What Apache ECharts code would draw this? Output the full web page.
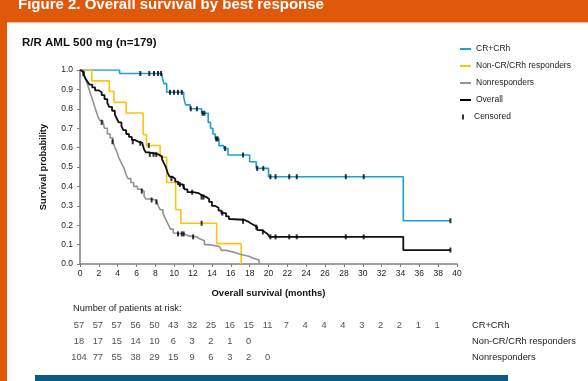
<!DOCTYPE html>
<html>
<head>
<meta charset="utf-8">
<script src="https://cdn.jsdelivr.net/npm/echarts@6/dist/echarts.min.js"></script>
<style>
  html, body { margin: 0; padding: 0; background: #fff; }
  #chart { width: 588px; height: 381px; }
</style>
</head>
<body>
<div id="chart"></div>
<script>
// Kaplan-Meier estimates, [month, survival probability]; each value holds until the next month listed
const crCurve = [[0,1.0],[4.2,0.982],[8.7,0.965],[8.9,0.93],[9.2,0.885],[11.0,0.86],[11.2,0.82],[11.7,0.80],[12.9,0.777],[13.6,0.73],[13.85,0.70],[14.1,0.67],[14.35,0.645],[14.75,0.61],[15.25,0.595],[15.7,0.562],[18.0,0.527],[18.7,0.493],[20.0,0.45],[34.3,0.223],[39.3,0.223]];
const nonCrCurve = [[0,1.0],[1.25,0.944],[3.1,0.889],[3.6,0.833],[4.9,0.778],[6.7,0.667],[7.05,0.611],[8.5,0.55],[9.2,0.42],[10.15,0.28],[10.7,0.21],[14.5,0.105],[17.1,0]];
const nonRespCurve = [[0,1.0],[0.3,0.99],[0.5,0.96],[0.7,0.94],[0.9,0.91],[1.1,0.88],[1.3,0.85],[1.5,0.82],[1.7,0.79],[1.9,0.76],[2.1,0.74],[2.4,0.73],[2.6,0.70],[2.9,0.67],[3.2,0.65],[3.5,0.63],[3.7,0.60],[3.9,0.58],[4.1,0.55],[4.3,0.53],[4.5,0.51],[4.7,0.49],[4.9,0.46],[5.1,0.44],[5.4,0.42],[5.7,0.40],[6.1,0.385],[6.5,0.375],[6.8,0.35],[7.0,0.335],[7.4,0.33],[8.1,0.32],[8.3,0.30],[8.5,0.28],[8.8,0.26],[9.0,0.24],[9.2,0.22],[9.4,0.20],[9.6,0.18],[9.9,0.16],[10.1,0.155],[11.1,0.145],[11.5,0.14],[12.4,0.13],[12.7,0.12],[13.2,0.10],[13.7,0.09],[14.8,0.08],[15.0,0.07],[15.6,0.06],[16.4,0.05],[17.0,0.04],[17.9,0.03],[18.4,0.02],[19.0,0]];
const overallCurve = [[0,1.0],[0.2,0.99],[0.4,0.975],[0.6,0.955],[0.8,0.94],[1.0,0.925],[1.3,0.91],[1.6,0.895],[2.0,0.885],[2.3,0.87],[2.6,0.85],[2.9,0.83],[3.1,0.81],[3.4,0.79],[3.7,0.77],[3.9,0.75],[4.1,0.73],[4.4,0.71],[4.6,0.69],[4.9,0.67],[5.2,0.655],[5.5,0.64],[5.8,0.63],[6.2,0.625],[6.6,0.615],[6.8,0.59],[7.0,0.575],[7.3,0.565],[8.3,0.555],[8.7,0.54],[8.9,0.52],[9.1,0.50],[9.3,0.47],[9.5,0.45],[9.8,0.44],[10.1,0.425],[10.4,0.41],[10.9,0.40],[11.1,0.385],[11.4,0.37],[12.0,0.365],[12.6,0.355],[12.9,0.345],[13.4,0.335],[13.7,0.32],[14.0,0.30],[14.3,0.29],[14.7,0.275],[15.0,0.262],[15.5,0.245],[15.8,0.232],[16.0,0.228],[17.4,0.22],[17.8,0.21],[18.1,0.20],[18.5,0.19],[18.8,0.175],[19.3,0.165],[19.6,0.155],[19.9,0.145],[20.1,0.14],[34.3,0.072],[39.3,0.072]];

// Censored observations, [month, survival probability]
const crCensored = [[6.4,0.982],[7.35,0.982],[7.85,0.982],[8.28,0.982],[8.6,0.982],[9.55,0.885],[9.97,0.885],[10.4,0.885],[10.8,0.885],[11.75,0.80],[12.4,0.80],[13.0,0.777],[13.2,0.777],[14.45,0.645],[14.6,0.645],[15.4,0.595],[17.3,0.562],[18.8,0.493],[19.45,0.493],[20.2,0.45],[20.75,0.45],[22.2,0.45],[23.0,0.45],[28.2,0.45],[30.1,0.45],[39.3,0.223]];
const nonCrCensored = [[7.3,0.611],[12.9,0.21]];
const nonRespCensored = [[2.3,0.73],[3.45,0.63],[6.55,0.376],[7.6,0.33],[8.1,0.32],[10.4,0.155],[10.8,0.155],[11.0,0.155],[12.0,0.14]];
const overallCensored = [[0.35,0.983],[5.6,0.63],[6.4,0.622],[7.4,0.565],[7.8,0.565],[8.1,0.565],[9.7,0.44],[10.6,0.41],[11.0,0.40],[11.9,0.37],[12.9,0.345],[13.1,0.345],[15.1,0.262],[17.3,0.22],[18.7,0.19],[19.4,0.165],[20.2,0.14],[20.75,0.14],[22.2,0.14],[23.0,0.14],[28.2,0.14],[30.1,0.14],[39.3,0.072]];

// Number of patients at risk, every 2 months from month 0
const riskMonths = [0,2,4,6,8,10,12,14,16,18,20,22,24,26,28,30,32,34,36,38];
const riskCr = [57,57,57,56,50,43,32,25,16,15,11,7,4,4,4,3,2,2,1,1];
const riskNonCr = [18,17,15,14,10,6,3,2,1,0];
const riskNonResp = [104,77,55,38,29,15,9,6,3,2,0];
const groupNames = ['CR+CRh','Non-CR/CRh responders','Nonresponders'];

const colors = { cr: '#1aa0d8', nonCr: '#ffc20e', nonResp: '#939393', overall: '#111111' };
const FONT = 'Arial, "Liberation Sans", sans-serif';

const riskData = [];
[riskCr, riskNonCr, riskNonResp].forEach((row, r) => {
  row.forEach((n, i) => riskData.push([riskMonths[i], groupNames[r], n]));
});

const kmLine = (name, data, color, width) => ({
  name, type: 'line', step: 'end', data, symbol: 'none', showSymbol: false,
  lineStyle: { color, width }, itemStyle: { color }, z: 3, animation: false
});
const censorSeries = (data) => ({
  name: 'Censored', type: 'scatter', data, symbol: 'rect', symbolSize: [2, 5],
  itemStyle: { color: '#000' }, z: 5, animation: false
});

const chart = echarts.init(document.getElementById('chart'), null, { renderer: 'canvas' });
chart.setOption({
  backgroundColor: '#fff',
  animation: false,
  textStyle: { fontFamily: FONT },
  graphic: [
    { type: 'rect', shape: { x: 0, y: 0, width: 588, height: 22 }, style: { fill: '#e0590b' } },
    { type: 'rect', shape: { x: 0, y: 22, width: 588, height: 1 }, style: { fill: '#f3b48c' } },
    { type: 'rect', shape: { x: 0, y: 0, width: 7, height: 381 }, style: { fill: '#e0590b' } },
    { type: 'rect', shape: { x: 35, y: 375, width: 473, height: 6 }, style: { fill: '#0b5a80' } },
    { type: 'text', x: 18, y: 5, style: { text: 'Figure 2. Overall survival by best response', fill: '#fff', font: 'bold 15px ' + FONT, verticalAlign: 'middle' } },
    { type: 'text', x: 22, y: 42.5, style: { text: 'R/R AML 500 mg (n=179)', fill: '#111', font: 'bold 11.5px ' + FONT, verticalAlign: 'middle' } },
    { type: 'text', x: 73, y: 308, style: { text: 'Number of patients at risk:', fill: '#222', font: '9.3px ' + FONT, verticalAlign: 'middle' } }
  ],
  legend: [
    {
      orient: 'vertical', left: 455, top: 39.5, itemWidth: 11, itemHeight: 2, itemGap: 8,
      icon: 'rect',
      textStyle: { fontSize: 8.5, color: '#222', fontFamily: FONT },
      data: ['CR+CRh', 'Non-CR/CRh responders', 'Nonresponders', { name: 'Overall', itemStyle: { color: '#000' } }],
      selectedMode: false
    },
    {
      orient: 'vertical', left: 457, top: 107.5, itemWidth: 2, itemHeight: 5,
      icon: 'rect',
      textStyle: { fontSize: 8.5, color: '#222', fontFamily: FONT, padding: [0, 0, 0, 5] },
      data: ['Censored'], selectedMode: false
    }
  ],
  grid: [
    { left: 80, right: 131, top: 70, height: 194 },
    { left: 80, right: 131, top: 317, height: 48 }
  ],
  xAxis: [
    {
      gridIndex: 0, type: 'value', min: 0, max: 40, interval: 2,
      name: 'Overall survival (months)', nameLocation: 'middle', nameGap: 24,
      nameTextStyle: { fontWeight: 'bold', fontSize: 9.5, color: '#111', fontFamily: FONT },
      axisLine: { lineStyle: { color: '#7f7f7f', width: 1.5 } },
      axisTick: { show: true, length: 3, lineStyle: { color: '#7f7f7f' } },
      axisLabel: { fontSize: 8.5, color: '#222', margin: 5 },
      splitLine: { show: false }
    },
    {
      gridIndex: 1, type: 'value', min: 0, max: 40, show: false
    }
  ],
  yAxis: [
    {
      gridIndex: 0, type: 'value', min: 0, max: 1, interval: 0.1,
      name: 'Survival probability', nameLocation: 'middle', nameGap: 32,
      nameTextStyle: { fontWeight: 'bold', fontSize: 9.3, color: '#111', fontFamily: FONT },
      axisLine: { show: true, lineStyle: { color: '#7f7f7f', width: 1.5 } },
      axisTick: { show: true, length: 3, lineStyle: { color: '#7f7f7f' } },
      axisLabel: { fontSize: 8.5, color: '#222', margin: 7, formatter: v => v.toFixed(1) },
      splitLine: { show: false }
    },
    {
      gridIndex: 1, type: 'category', data: groupNames, inverse: true, position: 'right',
      axisLine: { show: false }, axisTick: { show: false }, splitLine: { show: false },
      axisLabel: { show: true, margin: 15, align: 'left', fontSize: 9.3, color: '#222' }
    }
  ],
  series: [
    kmLine('CR+CRh', crCurve, colors.cr, 1.6),
    kmLine('Non-CR/CRh responders', nonCrCurve, colors.nonCr, 1.6),
    kmLine('Nonresponders', nonRespCurve, colors.nonResp, 1.6),
    kmLine('Overall', overallCurve, colors.overall, 1.8),
    censorSeries(crCensored),
    censorSeries(nonCrCensored),
    censorSeries(nonRespCensored),
    censorSeries(overallCensored),
    {
      name: 'At risk', type: 'scatter', xAxisIndex: 1, yAxisIndex: 1,
      data: riskData, symbolSize: 0, silent: true, animation: false,
      label: {
        show: true, position: 'inside', offset: [-1, 0],
        formatter: p => String(p.value[2]), fontSize: 9.3, color: '#222', fontFamily: FONT
      }
    }
  ]
});
</script>
</body>
</html>
